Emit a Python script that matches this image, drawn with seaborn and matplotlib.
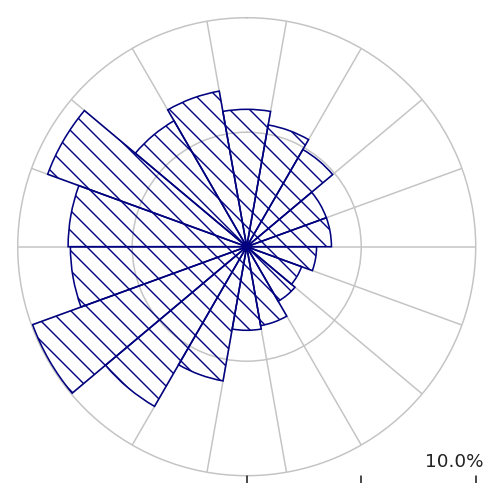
import numpy as np
import matplotlib
matplotlib.use("Agg")
import matplotlib.pyplot as plt
import matplotlib.transforms as mtransforms
import seaborn as sns

# style
sns.set_theme(style="white")
plt.rcParams['font.family'] = ['DejaVu Sans']
plt.rcParams['hatch.linewidth'] = 0.85

# data: frequency (%) per 20 degree direction sector
directions = [0, 20, 40, 60, 80, 100, 120, 140, 160,
              180, 200, 220, 240, 260, 280, 300, 320, 340]
frequency = [6.0, 5.4, 4.9, 3.7, 3.7, 3.05, 2.55, 2.75, 3.5,
             3.65, 5.95, 8.05, 9.95, 7.7, 7.8, 9.25, 6.35, 6.9]
sector_width = 20
ring_values = [5.0]
r_max = 10.0
scale_ticks = [0, 5, 10]
scale_label = '10.0%'

navy = '#000080'
grid_gray = '#c4c4c4'

fig = plt.figure(figsize=(484 / 120, 483 / 120), dpi=120)
pos = [0.0366, 0.0151, 0.9463, 0.9482]

ax = fig.add_axes(pos, projection='polar')
ax.set_theta_zero_location('N')
ax.set_theta_direction(-1)
ax.set_ylim(0, r_max)

# spokes on the sector borders, one inner ring
ax.set_xticks(np.deg2rad(np.arange(sector_width / 2, 360, sector_width)))
ax.set_xticklabels([])
ax.set_yticks(ring_values)
ax.set_yticklabels([])
ax.grid(True, color=grid_gray, linewidth=0.9)
ax.spines['polar'].set_color(grid_gray)
ax.spines['polar'].set_linewidth(0.9)
ax.set_axisbelow(True)
ax.set_facecolor('white')

# rose bars
ax.bar(np.deg2rad(directions), frequency, width=np.deg2rad(sector_width),
       bottom=0, facecolor='none', edgecolor=navy, hatch='\\\\',
       linewidth=0.95, zorder=3)

# scale ticks under the rose
ax2 = fig.add_axes(pos)
ax2.set_xlim(-r_max, r_max)
ax2.set_ylim(-r_max, r_max)
ax2.axis('off')
trans = mtransforms.blended_transform_factory(ax2.transData, fig.transFigure)
for t in scale_ticks:
    ax2.plot([t, t], [0, 7 / 483], color='#111111', linewidth=0.9,
             transform=trans, clip_on=False)

fig.text(0.999, 16 / 483, scale_label, ha='right', va='baseline',
         fontsize=11, color='#222222')

plt.savefig('out.png', dpi=120)
